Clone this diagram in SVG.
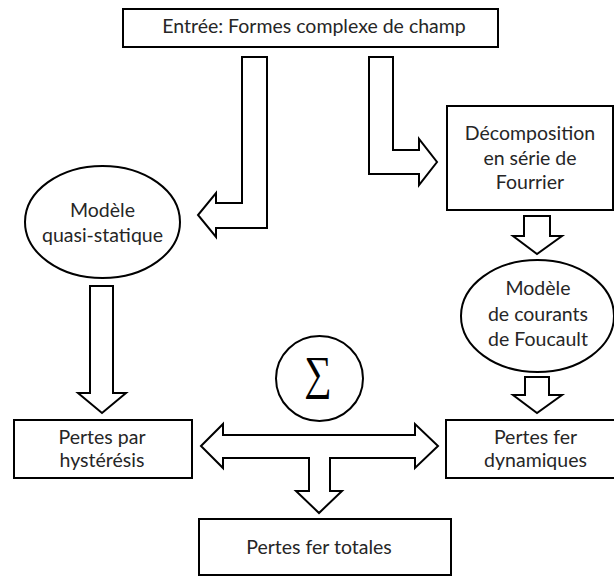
<svg xmlns="http://www.w3.org/2000/svg" width="614" height="576" viewBox="0 0 614 576">
<style>
.box{fill:#fff;stroke:#000;stroke-width:2}
.arr{fill:#fff;stroke:#000;stroke-width:2;stroke-linejoin:miter}
.t{font-family:Lato,"Liberation Sans",sans-serif;font-size:19.5px;fill:#262626;text-anchor:middle}
.sig{font-family:"Liberation Serif","DejaVu Serif",serif;font-size:47px;fill:#000;text-anchor:middle}
</style>
<rect width="614" height="576" fill="#fff"/>
<g id="connectors">
<polygon class="arr" points="242,57 267,57 267,228 216,228 216,237 198,215 216,193 216,203 242,203"/>
<polygon class="arr" points="369,57 393,57 393,150 419,150 419,139 437,162 419,185 419,174 369,174"/>
<polygon class="arr" points="524,216 550,216 550,236 562,236 537,254 513,236 524,236"/>
<polygon class="arr" points="525,377 549,377 549,395 562,395 537,413 513,395 525,395"/>
<polygon class="arr" points="90,286 113,286 113,393 126,393 102,413 78,393 90,393"/>
<polygon class="arr" points="201,446 223,424 223,435 415,435 415,424 438,446 415,468 415,458 330,458 330,491 342,491 319,513 296,491 309,491 309,458 223,458 223,468"/>
</g>
<g id="n-entree">
<rect class="box" x="123" y="9" width="375" height="38"/>
<text class="t" x="314" y="33">Entrée: Formes complexe de champ</text>
</g>
<g id="n-quasi">
<ellipse class="box" cx="102.5" cy="222" rx="77.5" ry="56"/>
<text class="t" x="102.5" y="217">Modèle</text>
<text class="t" x="102.5" y="242">quasi-statique</text>
</g>
<g id="n-fourier">
<rect class="box" x="447" y="106" width="166" height="104"/>
<text class="t" x="530" y="140">Décomposition</text>
<text class="t" x="530" y="164.5">en série de</text>
<text class="t" x="530" y="189">Fourrier</text>
</g>
<g id="n-foucault">
<ellipse class="box" cx="537.5" cy="316" rx="76.5" ry="56"/>
<text class="t" x="538" y="295">Modèle</text>
<text class="t" x="538" y="320.5">de courants</text>
<text class="t" x="538" y="345.5">de Foucault</text>
</g>
<g id="n-sigma">
<ellipse class="box" cx="319.5" cy="378.5" rx="43.5" ry="42.5"/>
<text class="sig" x="0" y="389.5" transform="translate(318,0) scale(0.82,1)">∑</text>
</g>
<g id="n-hyst">
<rect class="box" x="14" y="420" width="178" height="58"/>
<text class="t" x="102" y="443.5">Pertes par</text>
<text class="t" x="102" y="466.5">hystérésis</text>
</g>
<g id="n-dyn">
<rect class="box" x="446" y="420" width="180" height="58"/>
<text class="t" x="535.5" y="443.5">Pertes fer</text>
<text class="t" x="535.5" y="466.5">dynamiques</text>
</g>
<g id="n-totales">
<rect class="box" x="199" y="519" width="252" height="56"/>
<text class="t" x="319" y="554">Pertes fer totales</text>
</g>
</svg>
